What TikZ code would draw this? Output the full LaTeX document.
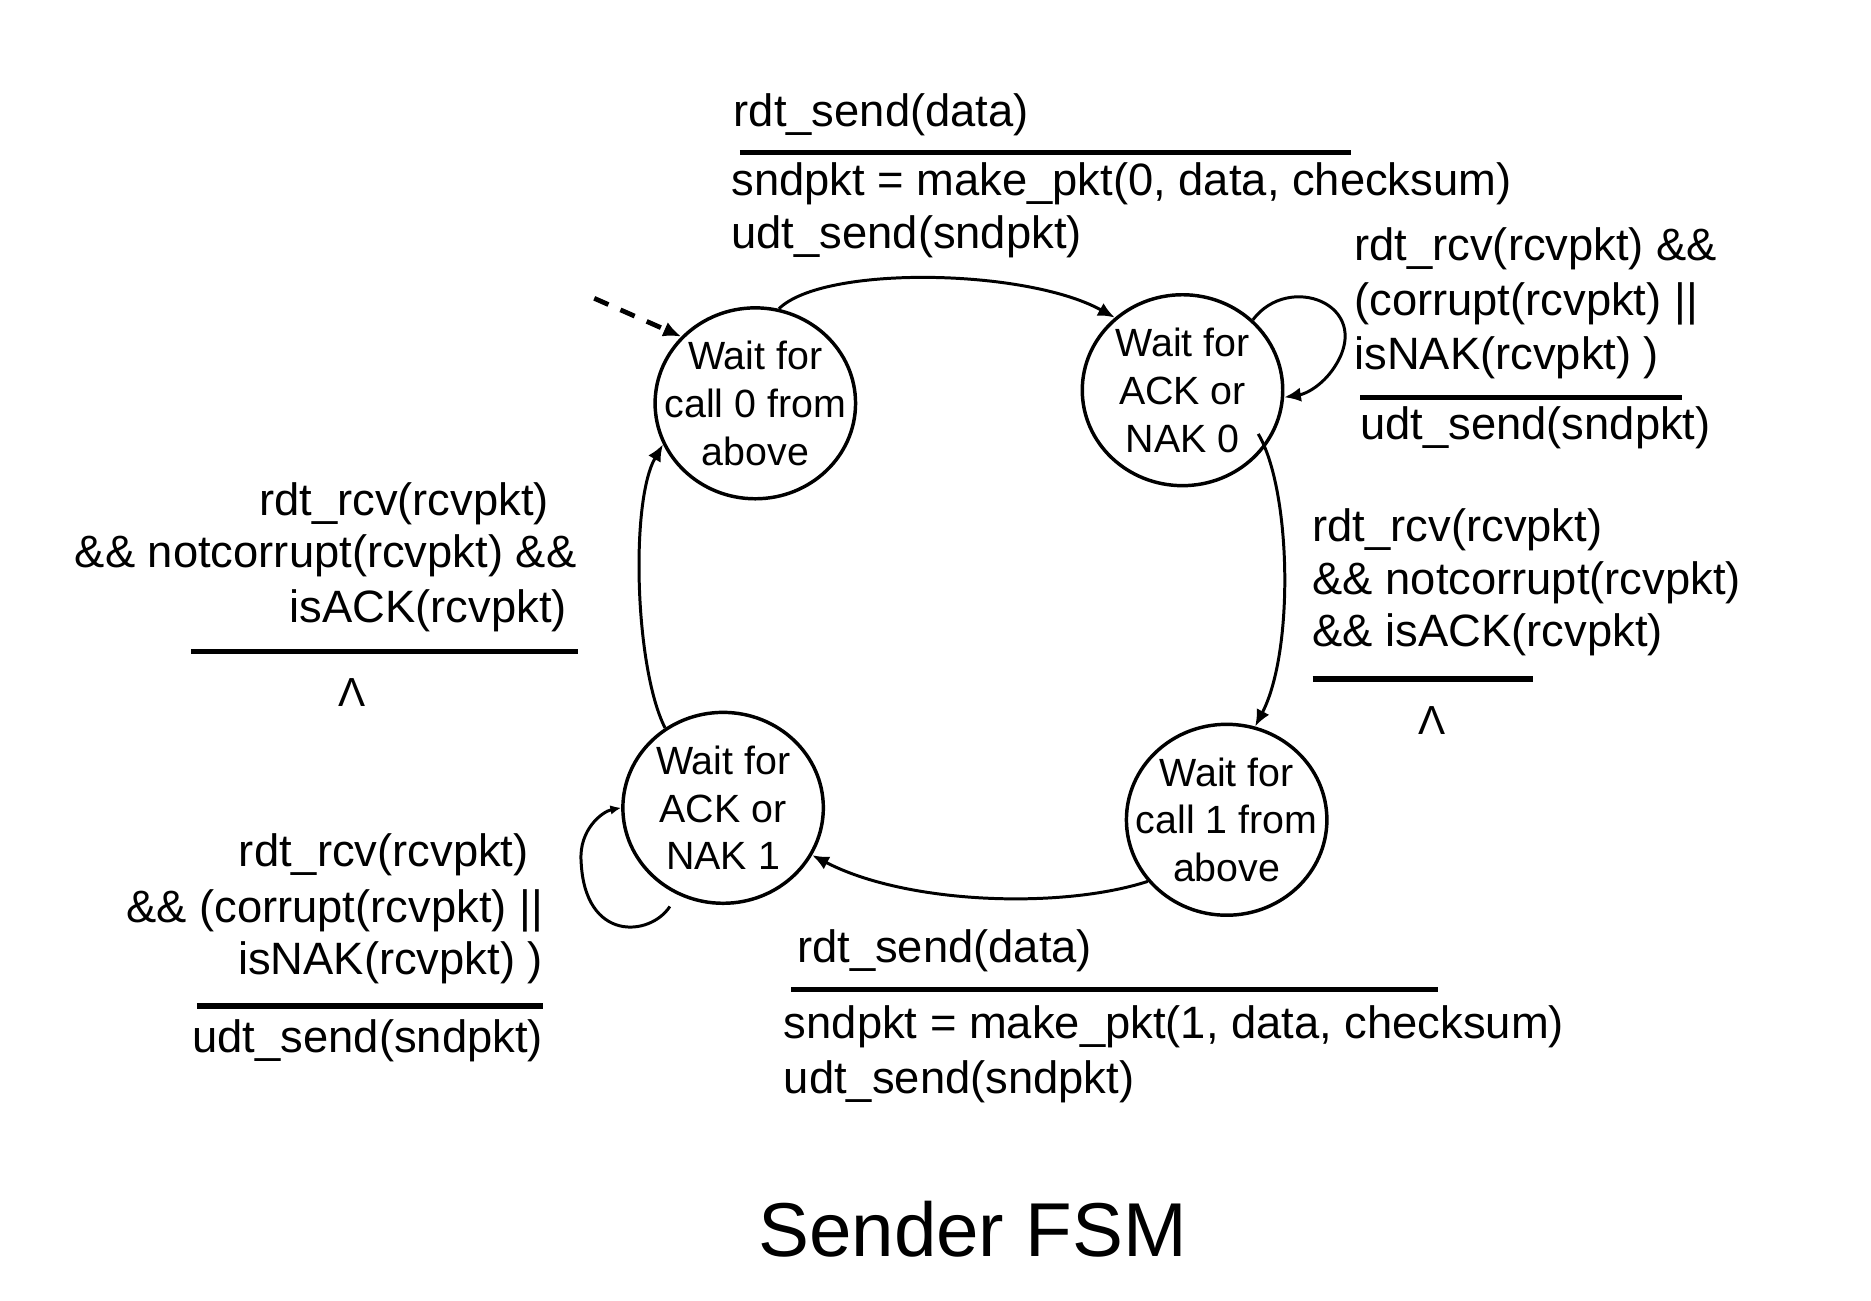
\documentclass[tikz,border=0pt]{standalone}
\usepackage{fontspec}
\setmainfont{Liberation Sans}
\usetikzlibrary{shapes.geometric,arrows.meta,calc}
\tikzset{
  lbl/.style={font=\fontsize{38}{44}\selectfont, inner sep=0pt, outer sep=0pt},
  lam/.style={font=\fontsize{34}{38}\selectfont, inner sep=0pt},
  state/.style={ellipse, draw, line width=2.9pt, minimum width=168pt, minimum height=160pt,
    inner ysep=0pt, inner xsep=-20pt, align=center, font=\fontsize{33}{40}\selectfont},
  conn/.style={line width=2.5pt, -{Latex[length=14pt,width=12pt]}},
  smallconn/.style={line width=2.5pt, -{Latex[length=9pt,width=8pt]}},
  initarrow/.style={line width=4pt, dash pattern=on 13pt off 11pt, -{Latex[length=15pt,width=13pt]}},
  bar/.style={line width=4.5pt},
}
\begin{document}
\begin{tikzpicture}[x=1pt,y=-1pt]
\useasboundingbox (0,0) rectangle (1568,1090);

% states
\node[state] (A) at (633,338) {Wait for\\call 0 from\\above};
\node[state] (B) at (991,327) {Wait for\\ACK or\\NAK 0};
\node[state] (C) at (1028,687) {Wait for\\call 1 from\\above};
\node[state] (D) at (606,677) {Wait for\\ACK or\\NAK 1};

% initial arrow
\coordinate (init) at (498,250);
\draw[initarrow] (init) -- (A.138);

% transitions
\draw[conn] (A.76) .. controls (690,222) and (860,225) .. (B.133);
\draw[conn] ([shift={(-8,-8)}]B.-32) .. controls (1082,410) and (1085,545) .. (C.73);
\draw[conn] (C.-142) .. controls (890,762) and (760,758) .. (D.-28);
\draw[conn] (D.126) .. controls (532,560) and (528,420) .. (A.-156);

% self loops
\draw[conn] (B.45) .. controls (1080,228) and (1150,255) .. (1120,305)
                   .. controls (1110,322) and (1095,330) .. (B.-4);
\draw[smallconn] ([shift={(-6,10)}]D.-118) .. controls (545,785) and (490,790) .. (487,722)
                   .. controls (485,695) and (505,680) .. (D.180);

% top label
\node[lbl, anchor=base west] (t1) at (615,106) {rdt\_send(data)};
\draw[bar] (620,128) -- (1132,128);
\node[lbl, anchor=base west] (t2) at (613,164) {sndpkt = make\_pkt(0, data, checksum)};
\node[lbl, anchor=base west] (t3) at (613,208) {udt\_send(sndpkt)};

% top right label
\node[lbl, anchor=base west] (r1) at (1135,218) {rdt\_rcv(rcvpkt) \&\&};
\node[lbl, anchor=base west] (r2) at (1135,264) {(corrupt(rcvpkt) \textbar\textbar};
\node[lbl, anchor=base west] (r3) at (1135,310) {isNAK(rcvpkt) )};
\draw[bar] (1140,333) -- (1410,333);
\node[lbl, anchor=base west] (r4) at (1140,368) {udt\_send(sndpkt)};

% right middle label
\node[lbl, anchor=base west] (m1) at (1100,454) {rdt\_rcv(rcvpkt)};
\node[lbl, anchor=base west] (m2) at (1100,498) {\&\& notcorrupt(rcvpkt)};
\node[lbl, anchor=base west] (m3) at (1100,542) {\&\& isACK(rcvpkt)};
\draw[bar] (1100,569) -- (1285,569);
\node[lam] (m4) at (1200,604) {Λ};

% left middle label
\node[lbl, anchor=base east] (l1) at (460,432) {rdt\_rcv(rcvpkt)};
\node[lbl, anchor=base east] (l2) at (483,476) {\&\& notcorrupt(rcvpkt) \&\&};
\node[lbl, anchor=base east] (l3) at (475,522) {isACK(rcvpkt)};
\draw[bar] (160,546) -- (484,546);
\node[lam] (l4) at (295,580) {Λ};

% bottom left label
\node[lbl, anchor=base east] (b1) at (443,726) {rdt\_rcv(rcvpkt)};
\node[lbl, anchor=base east] (b2) at (455,773) {\&\& (corrupt(rcvpkt) \textbar\textbar};
\node[lbl, anchor=base east] (b3) at (455,817) {isNAK(rcvpkt) )};
\draw[bar] (165,843) -- (455,843);
\node[lbl, anchor=base east] (b4) at (455,882) {udt\_send(sndpkt)};

% bottom label
\node[lbl, anchor=base west] (s1) at (668,807) {rdt\_send(data)};
\draw[bar] (663,829) -- (1205,829);
\node[lbl, anchor=base west] (s2) at (657,870) {sndpkt = make\_pkt(1, data, checksum)};
\node[lbl, anchor=base west] (s3) at (657,916) {udt\_send(sndpkt)};

% title
\node[font=\fontsize{64}{76}\selectfont, inner sep=0pt, anchor=base] (title) at (815,1053) {Sender FSM};
\end{tikzpicture}
\end{document}
